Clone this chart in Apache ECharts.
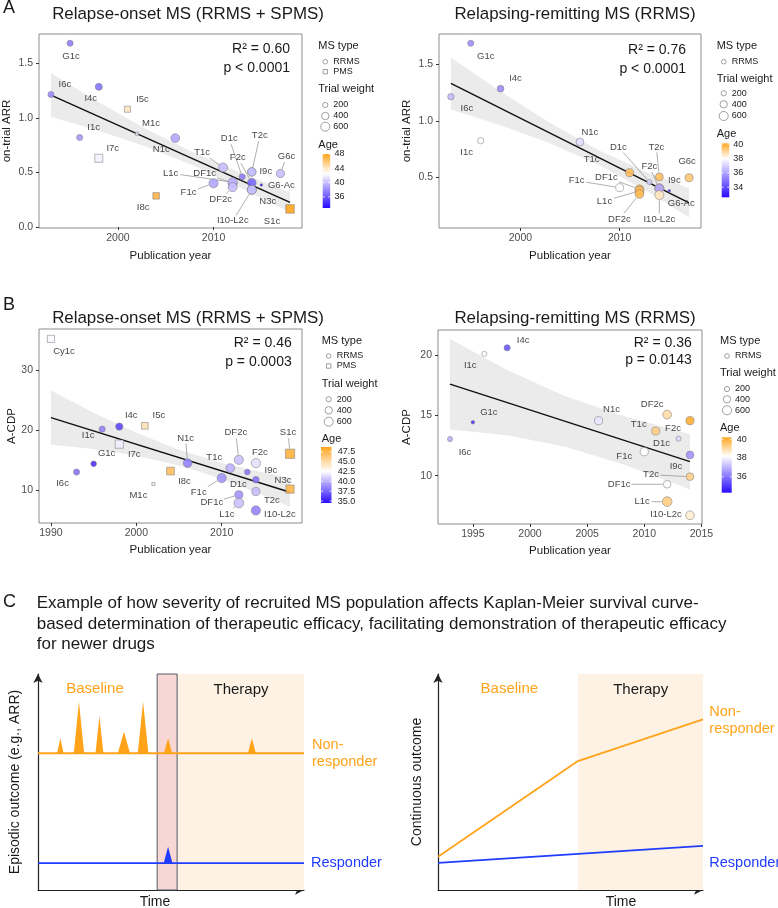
<!DOCTYPE html>
<html>
<head>
<meta charset="utf-8">
<script src="https://cdn.jsdelivr.net/npm/echarts@6/dist/echarts.min.js"></script>
<style>
html,body{margin:0;padding:0;background:#fff}
#chart{width:778px;height:908px}
</style>
</head>
<body>
<div id="chart"></div>
<script>
const FONT = '"Liberation Sans", Arial, Helvetica, sans-serif'

// A left: on-trial ARR, relapse-onset MS
var aL_trial = ['G1c','I6c','I4c','I5c','I1c','M1c','I7c','N1c','I8c','T1c','F1c','DF1c','L1c','DF2c','D1c','T2c','I9c','F2c','N3c','I10-L2c','G6-Ac','G6c','S1c']
var aL_year = [1995,1993,1998,2001,1996,2002,1998,2006,2004,2011,2010,2012,2012,2012,2013,2014,2014,2014,2014,2014,2015,2017,2018]
var aL_arr = [1.685,1.215,1.285,1.08,0.82,0.855,0.63,0.815,0.285,0.545,0.40,0.40,0.41,0.365,0.46,0.505,0.505,0.405,0.34,0.34,0.385,0.49,0.165]
var aL_type = ['RRMS','RRMS','RRMS','PMS','RRMS','PMS','PMS','RRMS','PMS','RRMS','RRMS','RRMS','RRMS','RRMS','RRMS','RRMS','RRMS','RRMS','RRMS','RRMS','RRMS','RRMS','PMS']
var aL_age = [37.5,38,37,44,38.5,41.5,42,39,47,40,39,39.5,39.5,40,37.5,40.5,40,36.5,39,40,33,40,48]
var aL_weight = [270,270,360,270,270,65,470,560,310,600,600,600,600,600,270,520,520,560,600,600,50,500,530]
var aL_fitYear = [1993,2018]
var aL_fitArr = [1.21,0.225]
var aL_bandYear = [1993,1998,2003,2008,2013,2018]
var aL_bandLo = [1.01,0.883,0.736,0.559,0.352,0.135]
var aL_bandHi = [1.41,1.143,0.896,0.679,0.492,0.315]

// A right: on-trial ARR, RRMS only
var aR_trial = ['G1c','I6c','I4c','I1c','N1c','T1c','F1c','DF1c','L1c','DF2c','D1c','T2c','I9c','F2c','I10-L2c','G6-Ac','G6c']
var aR_year = [1995,1993,1998,1996,2006,2011,2010,2012,2012,2012,2013,2014,2014,2014,2014,2015,2017]
var aR_arr = [1.686,1.213,1.284,0.824,0.812,0.541,0.408,0.394,0.379,0.352,0.458,0.503,0.403,0.40,0.343,0.381,0.496]
var aR_type = aR_trial.map(function(){ return 'RRMS' })
var aR_age = [35.5,36.5,35.5,38,37.3,39.5,38,39.6,39.6,39.6,37,39.5,39.5,36,38.6,33.3,39.3]
var aR_weight = [270,300,330,300,450,470,470,560,600,560,200,450,600,600,600,50,470]
var aR_fitYear = [1993,2017]
var aR_fitArr = [1.332,0.273]
var aR_bandYear = [1993,1998,2003,2008,2013,2017]
var aR_bandLo = [1.10,0.96,0.80,0.605,0.365,0.143]
var aR_bandHi = [1.56,1.26,0.98,0.735,0.535,0.403]

// B left: A-CDP, relapse-onset MS
var bL_trial = ['Cy1c','I6c','G1c','I1c','I4c','I7c','I5c','M1c','I8c','N1c','F1c','T1c','DF2c','DF1c','L1c','D1c','F2c','I9c','T2c','I10-L2c','N3c','S1c']
var bL_year = [1990,1993,1995,1996,1998,1998,2001,2002,2004,2006,2010,2011,2012,2012,2012,2013,2014,2014,2014,2014,2018,2018]
var bL_cdp = [35.16,13.05,14.43,20.18,20.61,17.69,20.73,11.06,13.22,14.54,12.06,13.71,15.09,9.29,7.91,13.05,14.54,11.77,9.83,6.68,10.23,16.09]
var bL_type = ['PMS','RRMS','RRMS','RRMS','RRMS','PMS','PMS','PMS','PMS','RRMS','RRMS','RRMS','RRMS','RRMS','RRMS','RRMS','RRMS','RRMS','RRMS','RRMS','PMS','PMS']
var bL_age = [42.3,38,35.8,38.5,36.5,42,44.5,42,47,38.5,39,40,40.5,39,40.5,38,41.5,38,40.3,38.5,47.5,47.8]
var bL_weight = [380,270,230,270,380,490,320,70,430,560,620,560,620,490,690,230,620,320,490,620,490,620]
var bL_fitYear = [1990,2018]
var bL_fitCdp = [22.1,9.71]
var bL_bandYear = [1990,1995,2000,2005,2010,2015,2018]
var bL_bandLo = [17.6,16.89,15.78,14.16,11.95,9.14,7.31]
var bL_bandHi = [26.6,22.89,19.58,16.76,14.55,12.94,12.11]

// B right: A-CDP, RRMS only
var bR_trial = ['I6c','G1c','I1c','I4c','N1c','F1c','T1c','DF2c','DF1c','L1c','D1c','F2c','I9c','T2c','I10-L2c']
var bR_year = [1993,1995,1996,1998,2006,2010,2011,2012,2012,2012,2013,2014,2014,2014,2014]
var bR_cdp = [13.04,14.43,20.09,20.6,14.56,11.99,13.7,15.06,9.29,7.85,13.07,14.56,11.72,9.92,6.72]
var bR_type = bR_trial.map(function(){ return 'RRMS' })
var bR_age = [37,35,38.2,35.5,37.8,38.2,39.3,39,38.2,39.3,37.6,40,36.5,39.2,38.6]
var bR_weight = [190,95,190,280,490,490,490,560,430,690,190,490,430,430,560]
var bR_fitYear = [1993,2014]
var bR_fitCdp = [17.58,11.16]
var bR_bandYear = [1993,1998,2003,2008,2014]
var bR_bandLo = [13.83,13.35,12.42,10.99,8.86]
var bR_bandHi = [21.33,18.75,16.62,14.99,13.46]

// C: schematic curves (time and outcome on a 0-100 scale)
var cL_spikeTime = [8.4,15.4,23.1,32.3,39.5,48.9,80.4]
var cL_spikePeak = [70.2,87.2,80.6,73.3,87.2,70.2,70.2]
var cL_spikeWidth = [2.5,3.9,3.0,4.6,4.0,3.1,3.0]
var cL_respSpikeTime = [48.9]
var cL_respSpikePeak = [20.0]
var cL_respSpikeWidth = [3.3]
var cL_nonResp = 63.3
var cL_resp = 12.4
var cL_window = [44.8,52.3]
var cL_therapy = [52.3,100]
var cR_therapy = [52.8,100]
var cR_nonRespTime = [0,52.8,100]
var cR_nonRespVal = [15.4,59.7,79.0]
var cR_respTime = [0,100]
var cR_respVal = [12.6,20.4]

// label offsets (px) from each point, third item = draw leader line
var aL_lab = [[1,13],[14,-10],[-8,12],[15,-10],[14,-10],[14,-10],[14,-10],[-14,11],[-13,12],[-21,-15,1],[-25,9,1],[-28,-10,1],[-62,-9,1],[-12,12,1],[-13,-38,1],[8,-36,1],[14,0],[-14,-25,1],[16,12],[-19,31,1],[20,0],[6,-17,1],[-18,12]]
var aR_lab = [[15,13],[16,12],[15,-10],[-14,12],[10,-10],[-38,-13],[-43,-7,1],[-33,-12,1],[-35,10,1],[-20,25,1],[-31,-35,1],[-3,-30,1],[15,-8],[-10,-22,1],[0,24,1],[12,13],[-2,-16]]
var bL_lab = [[13,12],[-14,11],[13,-10],[-14,6],[12,-11],[15,10],[14,-10],[-15,11],[14,10],[-2,-25,1],[-23,14,1],[-16,-11],[-3,-27,1],[-27,8,1],[-12,11,1],[-9,12],[4,-11],[15,-9],[16,9],[24,4],[-7,-9],[-2,-21,1]]
var bR_lab = [[15,13],[16,-10],[-14,11],[16,-7],[13,-11],[-20,5],[-17,-7],[-15,-10],[-48,0,1],[-25,0,1],[-17,5],[-17,8],[-14,11],[-39,-2,1],[-24,-1]]

// age colour scales: min, white point, max
var aL_sc = {min:32.9, mid:42.5, max:48}
var aR_sc = {min:32.6, mid:38, max:40.1}
var bL_sc = {min:34.5, mid:42.5, max:48.7}
var bR_sc = {min:34.3, mid:38.2, max:40.2}

const ORANGE = '#ffa31a'
const BLUE = '#1f3cff'

function dotSize(w){ return 0.37*Math.sqrt(w) }

function ageColor(age, sc){
	var lo = [40,10,255], hi = [255,165,30], t, c
	if(age >= sc.mid){ t = Math.min(1,(age-sc.mid)/(sc.max-sc.mid)); c = hi }
	else{ t = Math.min(1,(sc.mid-age)/(sc.mid-sc.min)); c = lo }
	return 'rgb(' + [0,1,2].map(function(i){ return Math.round(255+(c[i]-255)*t) }).join(',') + ')'
}

function txt(x, y, s, size, o){
	o = o || {}
	return {type:'text', x:x, y:y, rotation:o.rot || 0, silent:true, z:20,
		style:{text:s, fontSize:size, fontFamily:FONT, fontWeight:o.bold ? 'bold' : 'normal',
			fill:o.color || '#1a1a1a', align:o.align || 'left', verticalAlign:o.va || 'middle'}}
}

function scatterSeries(gi, names, years, vals, types, ages, weights, labs, sc){
	var data = names.map(function(n,i){
		return {
			name: n,
			value: [years[i], vals[i]],
			symbol: types[i] === 'PMS' ? 'rect' : 'circle',
			symbolSize: dotSize(weights[i]),
			itemStyle: {color: ageColor(ages[i], sc)}
		}
	})
	return {
		type:'scatter', xAxisIndex:gi, yAxisIndex:gi, z:5, data:data,
		itemStyle:{borderColor:'#7a7a7a', borderWidth:0.6, opacity:0.9},
		label:{show:true, position:'inside', formatter:'{b}', fontSize:9.5, color:'#333', fontFamily:FONT},
		labelLayout:function(p){
			var o = labs[p.dataIndex]
			return {dx:o[0], dy:o[1]}
		},
		emphasis:{disabled:true}
	}
}

// thin grey leader lines from point edge to label box
function leaderSeries(gi, names, years, vals, weights, labs){
	var rows = []
	labs.forEach(function(o,i){ if(o[2]) rows.push(i) })
	return {
		type:'custom', xAxisIndex:gi, yAxisIndex:gi, silent:true, z:4,
		data: rows.map(function(i){ return [years[i], vals[i]] }),
		renderItem:function(p, api){
			var i = rows[p.dataIndex]
			var c = api.coord([years[i], vals[i]])
			var dx = labs[i][0], dy = labs[i][1]
			var len = Math.sqrt(dx*dx + dy*dy)
			var r = dotSize(weights[i])/2 + 0.5
			var hw = names[i].length*2.7 + 1.5, hh = 5.5
			var s = Math.min(hw/Math.max(Math.abs(dx),1e-6), hh/Math.max(Math.abs(dy),1e-6))
			if(s >= 1) return
			return {type:'line', shape:{x1:c[0]+dx*r/len, y1:c[1]+dy*r/len, x2:c[0]+dx*(1-s), y2:c[1]+dy*(1-s)},
				style:{stroke:'#8c8c8c', lineWidth:0.7}}
		}
	}
}

function bandSeries(gi, yrs, lo, hi){
	return {
		type:'custom', xAxisIndex:gi, yAxisIndex:gi, silent:true, z:1,
		data: yrs.map(function(y,i){ return [y, lo[i], hi[i]] }),
		renderItem:function(p, api){
			if(p.dataIndex !== 0) return
			var pts = [], i
			for(i=0;i<yrs.length;i++) pts.push(api.coord([yrs[i], hi[i]]))
			for(i=yrs.length-1;i>=0;i--) pts.push(api.coord([yrs[i], lo[i]]))
			return {type:'polygon', shape:{points:pts}, style:{fill:'#ebebeb'}}
		}
	}
}

function fitSeries(gi, xs, ys){
	return {type:'line', xAxisIndex:gi, yAxisIndex:gi, z:3, symbol:'none', silent:true,
		data: xs.map(function(x,i){ return [x, ys[i]] }),
		lineStyle:{color:'#111', width:1.4}}
}

function yearAxis(gi, min, max, ticks, gap){
	return {type:'value', gridIndex:gi, min:min, max:max,
		name:'Publication year', nameLocation:'middle', nameGap:gap,
		nameTextStyle:{fontSize:11.5, color:'#1a1a1a', fontFamily:FONT},
		axisLine:{show:false}, splitLine:{show:false},
		axisTick:{show:true, length:3, customValues:ticks, lineStyle:{color:'#333'}},
		axisLabel:{customValues:ticks, fontSize:10.5, color:'#4d4d4d', margin:5, fontFamily:FONT,
			formatter:function(v){ return String(v) }}}
}

function valAxis(gi, min, max, ticks, name, gap, fmt){
	return {type:'value', gridIndex:gi, min:min, max:max,
		name:name, nameLocation:'middle', nameGap:gap, nameRotate:90,
		nameTextStyle:{fontSize:11.5, color:'#1a1a1a', fontFamily:FONT},
		axisLine:{show:false}, splitLine:{show:false},
		axisTick:{show:true, length:3, customValues:ticks, lineStyle:{color:'#333'}},
		axisLabel:{customValues:ticks, fontSize:10.5, color:'#4d4d4d', margin:6, fontFamily:FONT, formatter:fmt}}
}

function schemAxis(gi, name, gap){
	var a = {type:'value', gridIndex:gi, min:0, max:100,
		axisLine:{show:true, symbol:['none','arrow'], symbolSize:[7,9], lineStyle:{color:'#222', width:1.2}},
		axisTick:{show:false}, axisLabel:{show:false}, splitLine:{show:false}}
	if(name){
		a.name = name; a.nameLocation = 'middle'; a.nameGap = gap; a.nameRotate = 90
		a.nameTextStyle = {fontSize:14, color:'#1a1a1a', fontFamily:FONT}
	}
	return a
}

function spanSeries(gi, span, fill, stroke){
	return {type:'custom', xAxisIndex:gi, yAxisIndex:gi, silent:true, z:1,
		data:[[span[0], span[1]]],
		renderItem:function(p, api){
			var a = api.coord([span[0], 100]), b = api.coord([span[1], 0])
			return {type:'rect', shape:{x:a[0], y:a[1], width:b[0]-a[0], height:b[1]-a[1]},
				style:{fill:fill, stroke:stroke || null, lineWidth:1}}
		}}
}

function spikeSeries(gi, times, peaks, widths, base, color){
	return {type:'custom', xAxisIndex:gi, yAxisIndex:gi, silent:true, z:4,
		data: times.map(function(t,i){ return [t, peaks[i], widths[i]] }),
		renderItem:function(p, api){
			var t = api.value(0), pk = api.value(1), w = api.value(2)
			return {type:'polygon', shape:{points:[api.coord([t-w/2, base]), api.coord([t, pk]), api.coord([t+w/2, base])]},
				style:{fill:color}}
		}}
}

function levelSeries(gi, xs, ys, color){
	return {type:'line', xAxisIndex:gi, yAxisIndex:gi, z:3, symbol:'none', silent:true,
		data: xs.map(function(x,i){ return [x, ys[i]] }),
		lineStyle:{color:color, width:1.8}}
}

function legendBlock(c){
	var els = [], x = c.x, sc = c.sc
	els.push(txt(x, c.msY, 'MS type', 11))
	c.types.forEach(function(t,i){
		var y = c.typeY[i]
		if(t === 'PMS')
			els.push({type:'rect', silent:true, z:20, shape:{x:x+4.8, y:y-2.2, width:4.4, height:4.4}, style:{fill:'#fff', stroke:'#888', lineWidth:0.8}})
		else
			els.push({type:'circle', silent:true, z:20, shape:{cx:x+7, cy:y, r:2.3}, style:{fill:'#fff', stroke:'#888', lineWidth:0.8}})
		els.push(txt(x+15, y, t, 9))
	})
	els.push(txt(x, c.twY, 'Trial weight', 11))
	;[200,400,600].forEach(function(w,i){
		var y = c.wY[i]
		els.push({type:'circle', silent:true, z:20, shape:{cx:x+7, cy:y, r:dotSize(w)/2}, style:{fill:'#fff', stroke:'#888', lineWidth:0.8}})
		els.push(txt(x+15, y, String(w), 9))
	})
	els.push(txt(x, c.ageY, 'Age', 11))
	var top = c.barTop, h = c.barBottom - c.barTop
	var midOff = (sc.max - sc.mid)/(sc.max - sc.min)
	els.push({type:'rect', silent:true, z:20, shape:{x:c.barX, y:top, width:c.barW, height:h},
		style:{fill:new echarts.graphic.LinearGradient(0,0,0,1,[
			{offset:0, color:ageColor(sc.max, sc)},
			{offset:midOff, color:'#ffffff'},
			{offset:1, color:ageColor(sc.min, sc)}
		])}})
	c.ticks.forEach(function(v){
		var y = top + (sc.max - v)/(sc.max - sc.min)*h
		els.push({type:'line', silent:true, z:21, shape:{x1:c.barX, y1:y, x2:c.barX+2, y2:y}, style:{stroke:'#fff', lineWidth:0.8}})
		els.push({type:'line', silent:true, z:21, shape:{x1:c.barX+c.barW-2, y1:y, x2:c.barX+c.barW, y2:y}, style:{stroke:'#fff', lineWidth:0.8}})
		els.push(txt(c.labX, y, c.fmt(v), 9))
	})
	return els
}

var fmt1 = function(v){ return v.toFixed(1) }
var fmt0 = function(v){ return String(v) }

var graphics = [
	txt(3, 8, 'A', 18),
	txt(188, 14, 'Relapse-onset MS (RRMS + SPMS)', 16.9, {align:'center'}),
	txt(575, 14, 'Relapsing-remitting MS (RRMS)', 16.9, {align:'center'}),
	txt(3, 305, 'B', 18),
	txt(188, 318, 'Relapse-onset MS (RRMS + SPMS)', 16.9, {align:'center'}),
	txt(575, 318, 'Relapsing-remitting MS (RRMS)', 16.9, {align:'center'}),
	txt(290, 49, 'R² = 0.60', 14, {align:'right'}),
	txt(290, 68, 'p < 0.0001', 14, {align:'right'}),
	txt(686, 50, 'R² = 0.76', 14, {align:'right'}),
	txt(686, 69, 'p < 0.0001', 14, {align:'right'}),
	txt(291.7, 343.3, 'R² = 0.46', 14, {align:'right'}),
	txt(291.7, 361.7, 'p = 0.0003', 14, {align:'right'}),
	txt(691.7, 342.7, 'R² = 0.36', 14, {align:'right'}),
	txt(691.7, 360, 'p = 0.0143', 14, {align:'right'}),
	txt(3, 602, 'C', 18),
	txt(36.7, 603.3, 'Example of how severity of recruited MS population affects Kaplan-Meier survival curve-', 17),
	txt(36.7, 624, 'based determination of therapeutic efficacy, facilitating demonstration of therapeutic efficacy', 17),
	txt(36.7, 644.3, 'for newer drugs', 17),
	txt(95, 689, 'Baseline', 15, {align:'center', color:ORANGE}),
	txt(241, 690, 'Therapy', 15, {align:'center'}),
	txt(312, 745, 'Non-', 14.5, {color:ORANGE}),
	txt(312, 762, 'responder', 14.5, {color:ORANGE}),
	txt(311, 863, 'Responder', 14.5, {color:BLUE}),
	txt(155, 902, 'Time', 14, {align:'center'}),
	txt(509.3, 689, 'Baseline', 15, {align:'center', color:ORANGE}),
	txt(640.7, 690, 'Therapy', 15, {align:'center'}),
	txt(709.3, 712.3, 'Non-', 14.5, {color:ORANGE}),
	txt(709.3, 729.3, 'responder', 14.5, {color:ORANGE}),
	txt(709.3, 863.3, 'Responder', 14.5, {color:BLUE}),
	txt(621, 902, 'Time', 14, {align:'center'})
]
.concat(legendBlock({x:318.3, sc:aL_sc, msY:46, types:['RRMS','PMS'], typeY:[61.7,71.7], twY:89.3, wY:[105,116,126.7],
	ageY:145, barX:322.7, barW:7.5, barTop:154, barBottom:208, labX:334.5, ticks:[36,40,44,48], fmt:fmt0}))
.concat(legendBlock({x:716.7, sc:aR_sc, msY:46, types:['RRMS'], typeY:[61.7], twY:79, wY:[93.3,104.3,116],
	ageY:134.3, barX:721.7, barW:7.6, barTop:143.3, barBottom:197.3, labX:733.3, ticks:[34,36,38,40], fmt:fmt0}))
.concat(legendBlock({x:321.7, sc:bL_sc, msY:341, types:['RRMS','PMS'], typeY:[356,366], twY:384.3, wY:[399.3,410.3,421.7],
	ageY:439.3, barX:321, barW:10.5, barTop:447, barBottom:503, labX:337.7, ticks:[35,37.5,40,42.5,45,47.5], fmt:fmt1}))
.concat(legendBlock({x:720, sc:bR_sc, msY:341, types:['RRMS'], typeY:[356], twY:373.3, wY:[389,399.3,410.3],
	ageY:428.3, barX:721.7, barW:10, barTop:437.3, barBottom:492.7, labX:736.7, ticks:[36,38,40], fmt:fmt0}))

var panelGrid = {show:true, borderColor:'#8c8c8c', borderWidth:1, backgroundColor:'#fff'}

var option = {
	animation:false,
	textStyle:{fontFamily:FONT},
	grid:[
		Object.assign({left:39, top:34, width:263, height:194}, panelGrid),
		Object.assign({left:439, top:34, width:262, height:194}, panelGrid),
		Object.assign({left:39, top:329, width:263, height:194}, panelGrid),
		Object.assign({left:438, top:330, width:264, height:194}, panelGrid),
		{left:38, top:674, width:266, height:216},
		{left:438, top:674, width:265, height:216}
	],
	xAxis:[
		yearAxis(0, 1991.75, 2019.25, [2000,2010], 22),
		yearAxis(1, 1991.8, 2018.2, [2000,2010], 22),
		yearAxis(2, 1988.6, 2019.4, [1990,2000,2010], 21),
		yearAxis(3, 1991.95, 2015.05, [1995,2000,2005,2010,2015], 21),
		schemAxis(4),
		schemAxis(5)
	],
	yAxis:[
		valAxis(0, -0.01, 1.77, [0,0.5,1,1.5], 'on-trial ARR', 26, fmt1),
		valAxis(1, 0.051, 1.768, [0.5,1,1.5], 'on-trial ARR', 26, fmt1),
		valAxis(2, 4.6, 36.8, [10,20,30], 'A-CDP', 20, fmt0),
		valAxis(3, 6.0, 22.07, [10,15,20], 'A-CDP', 25, fmt0),
		schemAxis(4, 'Episodic outcome (e.g., ARR)', 16),
		schemAxis(5, 'Continuous outcome', 14)
	],
	series:[
		bandSeries(0, aL_bandYear, aL_bandLo, aL_bandHi),
		fitSeries(0, aL_fitYear, aL_fitArr),
		leaderSeries(0, aL_trial, aL_year, aL_arr, aL_weight, aL_lab),
		scatterSeries(0, aL_trial, aL_year, aL_arr, aL_type, aL_age, aL_weight, aL_lab, aL_sc),

		bandSeries(1, aR_bandYear, aR_bandLo, aR_bandHi),
		fitSeries(1, aR_fitYear, aR_fitArr),
		leaderSeries(1, aR_trial, aR_year, aR_arr, aR_weight, aR_lab),
		scatterSeries(1, aR_trial, aR_year, aR_arr, aR_type, aR_age, aR_weight, aR_lab, aR_sc),

		bandSeries(2, bL_bandYear, bL_bandLo, bL_bandHi),
		fitSeries(2, bL_fitYear, bL_fitCdp),
		leaderSeries(2, bL_trial, bL_year, bL_cdp, bL_weight, bL_lab),
		scatterSeries(2, bL_trial, bL_year, bL_cdp, bL_type, bL_age, bL_weight, bL_lab, bL_sc),

		bandSeries(3, bR_bandYear, bR_bandLo, bR_bandHi),
		fitSeries(3, bR_fitYear, bR_fitCdp),
		leaderSeries(3, bR_trial, bR_year, bR_cdp, bR_weight, bR_lab),
		scatterSeries(3, bR_trial, bR_year, bR_cdp, bR_type, bR_age, bR_weight, bR_lab, bR_sc),

		spanSeries(4, cL_therapy, '#fdf2e3'),
		spanSeries(4, cL_window, '#f7d6d4', '#4f5b66'),
		levelSeries(4, [0,100], [cL_nonResp,cL_nonResp], ORANGE),
		levelSeries(4, [0,100], [cL_resp,cL_resp], BLUE),
		spikeSeries(4, cL_spikeTime, cL_spikePeak, cL_spikeWidth, cL_nonResp, ORANGE),
		spikeSeries(4, cL_respSpikeTime, cL_respSpikePeak, cL_respSpikeWidth, cL_resp, BLUE),

		spanSeries(5, cR_therapy, '#fdf2e3'),
		levelSeries(5, cR_nonRespTime, cR_nonRespVal, ORANGE),
		levelSeries(5, cR_respTime, cR_respVal, BLUE)
	],
	graphic:{elements:graphics}
}

var chart = echarts.init(document.getElementById('chart'), null, {renderer:'canvas'})
chart.setOption(option)
</script>
</body>
</html>
